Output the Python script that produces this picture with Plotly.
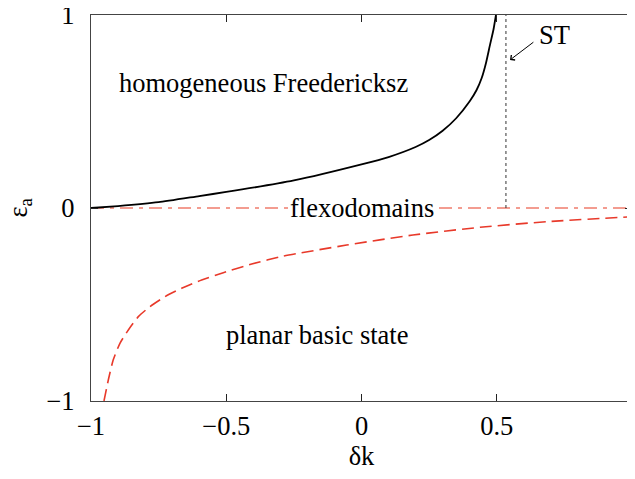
import plotly.graph_objects as go

# Black solid boundary (homogeneous Freedericksz)
fr_x = [-1.0, -0.9, -0.75, -0.6, -0.5, -0.25, 0.0, 0.1, 0.2, 0.25, 0.3, 0.35, 0.4, 0.425, 0.444, 0.46, 0.475, 0.488, 0.497]
fr_y = [0.0, 0.01, 0.03, 0.062, 0.083, 0.143, 0.226, 0.264, 0.316, 0.352, 0.40, 0.465, 0.553, 0.61, 0.672, 0.75, 0.845, 0.925, 1.0]

# Red dashed boundary (planar basic state)
pl_x = [-0.952, -0.936, -0.918, -0.893, -0.862, -0.825, -0.782, -0.726, -0.665, -0.591, -0.511,
        -0.406, -0.29, -0.055, 0.19, 0.438, 0.685, 1.0]
pl_y = [-1.0, -0.891, -0.788, -0.701, -0.632, -0.563, -0.511, -0.459, -0.416, -0.373, -0.335,
        -0.29, -0.25, -0.192, -0.14, -0.10, -0.071, -0.045]

# Flexodomain line (dash-dot) at eps_a = 0
fl_x = [-1.0, 1.0]
fl_y = [0.0, 0.0]

# ST vertical dotted line
st_x = [0.534, 0.534]
st_y = [0.0, 1.0]

x_ticks = [-1, -0.5, 0, 0.5, 1]
x_labels = ["\u22121", "\u22120.5", "0", "0.5", "1"]
y_ticks = [-1, 0, 1]
y_labels = ["\u22121", "0", "1"]

FONT = "Liberation Serif"
FS = 26.5

fig = go.Figure()
fig.add_trace(go.Scatter(x=fl_x, y=fl_y, mode="lines",
                         line=dict(color="#f07c6c", width=1.6, dash="13px,6px,4px,6px")))
fig.add_trace(go.Scatter(x=st_x, y=st_y, mode="lines",
                         line=dict(color="#333333", width=1, dash="dot")))
fig.add_trace(go.Scatter(x=pl_x, y=pl_y, mode="lines", line_shape="spline",
                         line=dict(color="#e8392a", width=1.6, dash="12px,6px", smoothing=0.6)))
fig.add_trace(go.Scatter(x=fr_x, y=fr_y, mode="lines", line_shape="spline",
                         line=dict(color="black", width=1.8, smoothing=0.5)))

ann_font = dict(family=FONT, size=FS, color="black")
fig.add_annotation(x=-0.364, y=0.648, text="homogeneous Freedericksz", showarrow=False, font=ann_font)
fig.add_annotation(x=0.0, y=0.0, text="flexodomains", showarrow=False, font=ann_font,
                   bgcolor="white", borderpad=0)
fig.add_annotation(x=-0.164, y=-0.658, text="planar basic state", showarrow=False, font=ann_font)
fig.add_annotation(x=0.715, y=0.896, text="ST", showarrow=False, font=ann_font)
fig.add_annotation(x=0.549, y=0.767, ax=0.641, ay=0.865, axref="x", ayref="y",
                   text="", showarrow=True, arrowhead=4, arrowsize=1.2, arrowwidth=1,
                   arrowcolor="black")
# y-axis title (rotated), placed in the left margin
fig.add_annotation(xref="paper", yref="y", x=-0.132, y=0.0, text="\u03b5<sub>a</sub>",
                   textangle=-90, showarrow=False, xanchor="center", yanchor="middle",
                   font=ann_font)

axis_common = dict(showgrid=False, zeroline=False, showline=True, linecolor="#444444",
                   linewidth=1.2, mirror="ticks", ticks="inside", ticklen=7,
                   tickcolor="#222222", tickwidth=1.2, automargin=False,
                   ticklabeloverflow="allow",
                   tickfont=dict(family=FONT, size=FS, color="black"))

# The page body adds an 8px offset; size the figure so the plot lands where the reference has it.
fig.update_layout(
    width=627, height=463,
    margin=dict(l=83, r=3, t=7, b=70),
    paper_bgcolor="white", plot_bgcolor="white",
    showlegend=False,
    xaxis=dict(range=[-1, 1], tickvals=x_ticks, ticktext=x_labels,
               title=dict(text="\u03b4k", font=dict(family=FONT, size=FS, color="black"), standoff=1),
               ticklabelstandoff=1, **axis_common),
    yaxis=dict(range=[-1, 1], tickvals=y_ticks, ticktext=y_labels,
               ticklabelstandoff=10, **axis_common),
)

fig.write_html("out.html")
